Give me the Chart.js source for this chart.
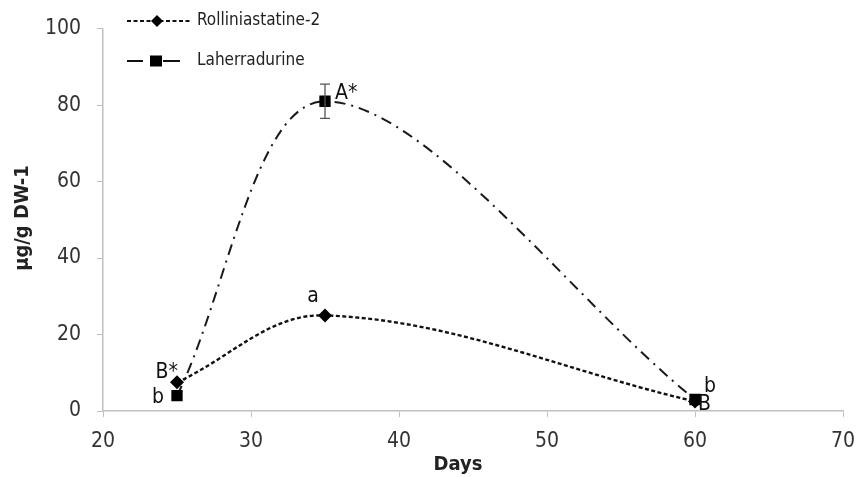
<!DOCTYPE html>
<html><head><meta charset="utf-8">
<script src="https://cdn.jsdelivr.net/npm/chart.js@4"></script>
<style>html,body{margin:0;padding:0;background:#fff}#wrap{width:860px;height:477px}</style>
</head><body><div id="wrap"><canvas id="c" width="860" height="477"></canvas></div>
<script>
const days = [25, 35, 60];
const rolliniastatine = [7.5, 25, 2.5];
const laherradurine = [4, 81, 3];
const laherradurineErr = [0, 4.5, 0];
const rollLabels = ["B*", "a", "B"];
const laheLabels = ["b", "A*", "b"];
const seriesNames = ["Rolliniastatine-2", "Laherradurine"];
const xTitle = "Days";
const yTitle = "μg/g DW-1";
const xTicks = [20, 30, 40, 50, 60, 70];
const yTicks = [0, 20, 40, 60, 80, 100];

const FONT = "'DejaVu Sans Condensed', 'DejaVu Sans', Verdana, sans-serif";

const overlay = {
  id: 'overlay',
  afterDatasetsDraw(chart) {
    const ctx = chart.ctx, xs = chart.scales.x, ys = chart.scales.y;
    ctx.save();
    // error bars
    ctx.strokeStyle = '#555'; ctx.lineWidth = 1.3; ctx.setLineDash([]);
    days.forEach((d, i) => {
      const e = laherradurineErr[i]; if (!e) return;
      const x = xs.getPixelForValue(d);
      const y1 = ys.getPixelForValue(laherradurine[i] + e), y2 = ys.getPixelForValue(laherradurine[i] - e);
      ctx.beginPath();
      ctx.moveTo(x, y1); ctx.lineTo(x, y2);
      ctx.moveTo(x - 5, y1); ctx.lineTo(x + 5, y1);
      ctx.moveTo(x - 5, y2); ctx.lineTo(x + 5, y2);
      ctx.stroke();
    });
    // point labels
    ctx.fillStyle = '#111'; ctx.font = "21px " + FONT;
    const px = (d) => xs.getPixelForValue(d), py = (v) => ys.getPixelForValue(v);
    ctx.textBaseline = 'middle';
    ctx.textAlign = 'right'; ctx.fillText(rollLabels[0], px(days[0]) + 1, py(rolliniastatine[0]) - 10);
    ctx.textAlign = 'center'; ctx.fillText(rollLabels[1], px(days[1]) - 12, py(rolliniastatine[1]) - 19);
    ctx.textAlign = 'left'; ctx.fillText(rollLabels[2], px(days[2]) + 3, py(rolliniastatine[2]) + 3);
    ctx.textAlign = 'right'; ctx.fillText(laheLabels[0], px(days[0]) - 13, py(laherradurine[0]) + 2);
    ctx.textAlign = 'left'; ctx.fillText(laheLabels[1], px(days[1]) + 10, py(laherradurine[1]) - 8);
    ctx.textAlign = 'left'; ctx.fillText(laheLabels[2], px(days[2]) + 9, py(laherradurine[2]) - 13);
    ctx.restore();
  },
  afterDraw(chart) {
    const ctx = chart.ctx;
    ctx.save();
    // axis titles
    ctx.fillStyle = '#222';
    ctx.font = "bold 20px " + FONT; ctx.textAlign = 'center'; ctx.textBaseline = 'middle';
    ctx.fillText(xTitle, 458, 465);
    ctx.translate(23, 218); ctx.rotate(-Math.PI / 2);
    ctx.fillText(yTitle, 0, 0);
    ctx.restore();
    ctx.save();
    ctx.fillStyle = '#222'; ctx.strokeStyle = '#111';
    ctx.font = "17px " + FONT; ctx.textBaseline = 'middle'; ctx.textAlign = 'left';
    // legend row 1
    let y = 21;
    ctx.lineWidth = 2.2; ctx.setLineDash([4, 2.5]);
    ctx.beginPath(); ctx.moveTo(127, y); ctx.lineTo(190, y); ctx.stroke();
    ctx.setLineDash([]);
    ctx.fillStyle = '#000';
    ctx.beginPath(); ctx.moveTo(157, y - 6); ctx.lineTo(163, y); ctx.lineTo(157, y + 6); ctx.lineTo(151, y); ctx.closePath(); ctx.fill();
    ctx.fillStyle = '#222';
    ctx.fillText(seriesNames[0], 197, y);
    // legend row 2
    y = 61;
    ctx.lineWidth = 2.2;
    ctx.beginPath(); ctx.moveTo(127, y); ctx.lineTo(143, y); ctx.moveTo(163, y); ctx.lineTo(180, y); ctx.stroke();
    ctx.fillStyle = '#000';
    ctx.fillRect(150, y - 5.5, 12, 11);
    ctx.fillStyle = '#222';
    ctx.fillText(seriesNames[1], 197, y);
    ctx.restore();
  }
};

new Chart(document.getElementById('c'), {
  type: 'line',
  data: {
    datasets: [
      {
        label: seriesNames[0],
        data: days.map((d, i) => ({x: d, y: rolliniastatine[i]})),
        borderColor: '#111', backgroundColor: '#000', borderWidth: 2.4,
        borderDash: [4, 2.5], tension: 0.36,
        pointStyle: 'rectRot', pointRadius: 7, pointBackgroundColor: '#000', pointBorderWidth: 0
      },
      {
        label: seriesNames[1],
        data: days.map((d, i) => ({x: d, y: laherradurine[i]})),
        borderColor: '#1a1a1a', backgroundColor: '#000', borderWidth: 2,
        borderDash: [11, 6, 2, 6], tension: 0.33,
        pointStyle: 'rect', pointRadius: 8, pointBackgroundColor: '#000', pointBorderWidth: 0
      }
    ]
  },
  options: {
    responsive: false, animation: false, devicePixelRatio: 1,
    layout: {padding: {left: 0, top: 28, right: 17, bottom: 0}},
    plugins: {legend: {display: false}, tooltip: {enabled: false}},
    scales: {
      x: {
        type: 'linear', min: 20, max: 70,
        afterBuildTicks: (s) => { s.ticks = xTicks.map(v => ({value: v})); },
        afterFit: (s) => { s.height = 66; s.paddingRight = 12; s.paddingLeft = 0; },
        border: {color: '#c0c0c0', width: 1.5},
        grid: {drawOnChartArea: false, drawTicks: true, tickLength: 6, color: '#c0c0c0'},
        ticks: {color: '#333', font: {family: FONT, size: 21}, padding: 12, maxRotation: 0},
        title: {display: false}
      },
      y: {
        min: 0, max: 100,
        afterBuildTicks: (s) => { s.ticks = yTicks.map(v => ({value: v})); },
        afterFit: (s) => { s.width = 103; },
        border: {color: '#c0c0c0', width: 1.5},
        grid: {drawOnChartArea: false, drawTicks: true, tickLength: 6, color: '#c0c0c0'},
        ticks: {color: '#333', font: {family: FONT, size: 21}, padding: 16},
        title: {display: false}
      }
    }
  },
  plugins: [overlay]
});
</script></body></html>
